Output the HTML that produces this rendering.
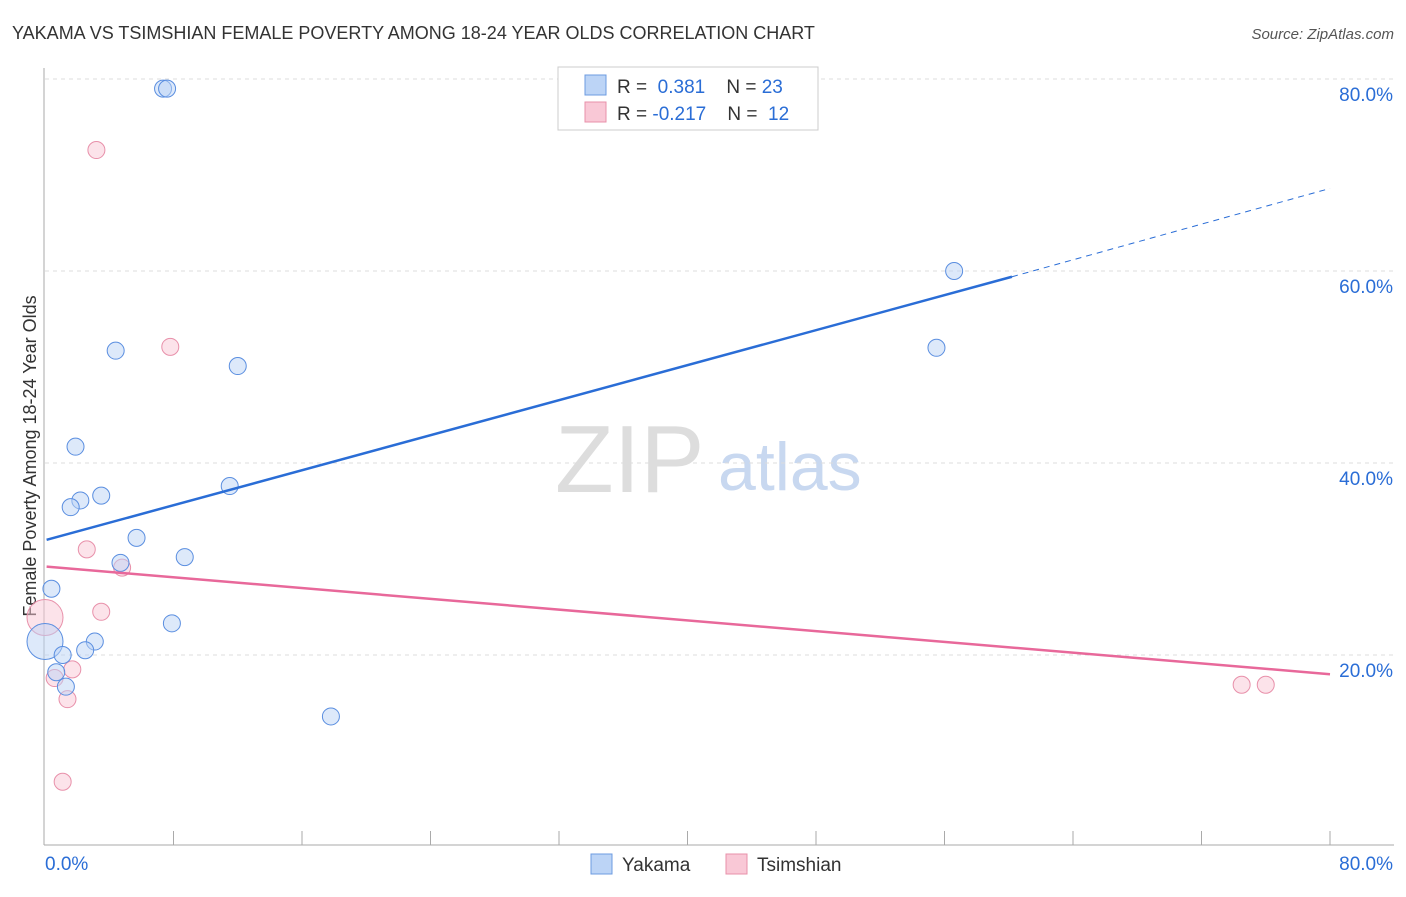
<!DOCTYPE html>
<html><head><meta charset="utf-8"><style>
body{margin:0;background:#fff;font-family:"Liberation Sans",sans-serif;}
svg text{font-family:"Liberation Sans",sans-serif;}
</style></head><body>
<svg id="chart" width="1406" height="892" xmlns="http://www.w3.org/2000/svg">
<text x="12" y="39" font-size="18" fill="#333">YAKAMA VS TSIMSHIAN FEMALE POVERTY AMONG 18-24 YEAR OLDS CORRELATION CHART</text>
<text x="1394" y="39" font-size="15" fill="#555" font-style="italic" text-anchor="end">Source: ZipAtlas.com</text>
<text x="36" y="456" font-size="18" fill="#333" text-anchor="middle" transform="rotate(-90 36 456)">Female Poverty Among 18-24 Year Olds</text>
<text x="555" y="492" font-size="96" fill="#ddd" font-family="Liberation Serif">ZIP</text>
<text x="718" y="490" font-size="68" fill="#c8d8f0">atlas</text>
<g id="grid"></g><g id="axes"></g><g id="marks"></g>
<g>
<rect x="558" y="67" width="260" height="63" fill="#fff" stroke="#ccc"/>
<rect x="585" y="75" width="21" height="20" fill="#bcd4f6" stroke="#6c9be0"/>
<text x="617" y="93" font-size="19" fill="#333">R = <tspan fill="#2a6dd6">&#160;0.381</tspan>&#160;&#160;&#160;&#160;N = <tspan fill="#2a6dd6">23</tspan></text>
<rect x="585" y="102" width="21" height="20" fill="#f9c8d6" stroke="#e890aa"/>
<text x="617" y="120" font-size="19" fill="#333">R = <tspan fill="#2a6dd6">-0.217</tspan>&#160;&#160;&#160;&#160;N = <tspan fill="#2a6dd6">&#160;12</tspan></text>
</g>
<g>
<rect x="591" y="854" width="21" height="20" fill="#bcd4f6" stroke="#6c9be0"/>
<text x="622" y="871" font-size="19" fill="#333">Yakama</text>
<rect x="726" y="854" width="21" height="20" fill="#f9c8d6" stroke="#e890aa"/>
<text x="757" y="871" font-size="19" fill="#333">Tsimshian</text>
</g>
</svg>
<script>
const yTicks=[20,40,60,80];
const yTickLabels=["20.0%","40.0%","60.0%","80.0%"];
const yakX=[7.35,7.6,56.6,55.5,4.4,12.0,1.9,11.5,3.5,2.2,1.6,5.7,8.7,4.7,0.4,7.9,3.1,0,2.5,1.1,0.7,1.3,17.8];
const yakY=[79.0,79.0,60.0,52.0,51.7,50.1,41.7,37.6,36.6,36.1,35.4,32.2,30.2,29.6,26.9,23.3,21.4,21.4,20.5,20.0,18.2,16.7,13.6];
const yakBig=[0,0,0,0,0,0,0,0,0,0,0,0,0,0,0,0,0,1,0,0,0,0,0];
const tsiX=[3.2,7.8,2.6,4.8,3.5,0,1.7,0.6,1.4,1.1,74.5,76.0];
const tsiY=[72.6,52.1,31.0,29.1,24.5,23.9,18.5,17.6,15.4,6.8,16.9,16.9];
const tsiBig=[0,0,0,0,0,1,0,0,0,0,0,0];
const yakTrend=[0.1,32.0,60.2,59.4,80,68.6];
const tsiTrend=[0.1,29.2,80,18.0];
const NS="http://www.w3.org/2000/svg";
const sx=v=>45+v*(1285/80), sy=v=>847-v*9.6;
function mk(p,t,a){const e=document.createElementNS(NS,t);for(const k in a)e.setAttribute(k,a[k]);document.getElementById(p).appendChild(e);return e;}
yTicks.forEach((t,i)=>{
 const g=mk('grid','line',{x1:45,x2:1394,y1:sy(t),y2:sy(t),stroke:'#ddd','stroke-dasharray':'4,4'});
 
 
 const l=mk('grid','text',{x:1393,y:sy(t)+22,'font-size':19,fill:'#2a6dd6','text-anchor':'end'});
 l.textContent=yTickLabels[i];
 
 
});
let a=mk('axes','line',{x1:44,x2:44,y1:68,y2:845,stroke:'#aaa'});


a=mk('axes','line',{x1:44,x2:1394,y1:845,y2:845,stroke:'#aaa'});


for(let i=1;i<=10;i++){const t=mk('axes','line',{x1:sx(i*8),x2:sx(i*8),y1:831,y2:845,stroke:'#aaa'});
 
 }
a=mk('axes','text',{x:45,y:870,'font-size':19,fill:'#2a6dd6'});a.textContent='0.0%';


a=mk('axes','text',{x:1393,y:870,'font-size':19,fill:'#2a6dd6','text-anchor':'end'});a.textContent='80.0%';


function dots(X,Y,B,fill,stroke,name){X.forEach((x,i)=>{const c=mk('marks','circle',{cx:sx(x),cy:sy(Y[i]),r:B[i]?18:8.5,fill:fill,'fill-opacity':0.5,stroke:stroke,'stroke-width':1});
 
 });}
dots(tsiX,tsiY,tsiBig,'#f9c8d6','#e890aa','tsimshian-point');
dots(yakX,yakY,yakBig,'#bcd4f6','#5a8ee0','yakama-point');
let l=mk('marks','line',{x1:sx(yakTrend[0]),y1:sy(yakTrend[1]),x2:sx(yakTrend[2]),y2:sy(yakTrend[3]),stroke:'#2a6dd6','stroke-width':2.5});


l=mk('marks','line',{x1:sx(yakTrend[2]),y1:sy(yakTrend[3]),x2:sx(yakTrend[4]),y2:sy(yakTrend[5]),stroke:'#2a6dd6','stroke-width':1,'stroke-dasharray':'6,5'});


l=mk('marks','line',{x1:sx(tsiTrend[0]),y1:sy(tsiTrend[1]),x2:sx(tsiTrend[2]),y2:sy(tsiTrend[3]),stroke:'#e8689a','stroke-width':2.5});


</script>
</body></html>
